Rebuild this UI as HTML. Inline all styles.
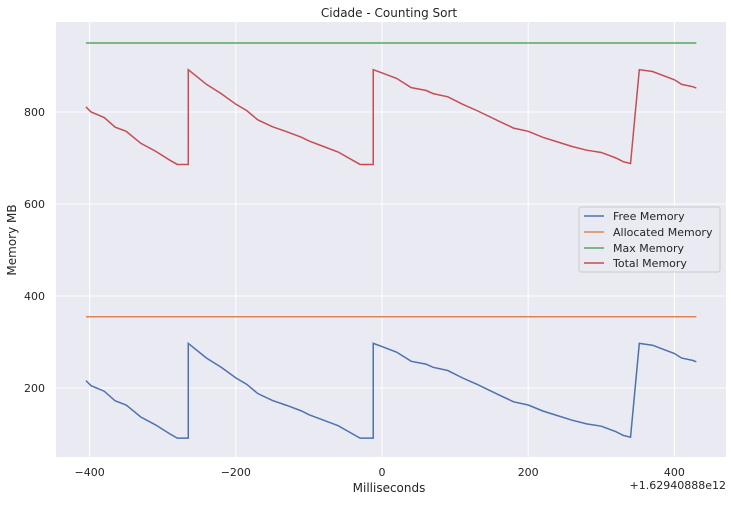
<!DOCTYPE html>
<html><head><meta charset="utf-8"><style>
body{margin:0;background:#fff;font-family:"DejaVu Sans","Liberation Sans",sans-serif;}
svg text{font-family:"DejaVu Sans","Liberation Sans",sans-serif;fill:#262626;}
</style></head><body>
<svg id="c" width="731" height="501"></svg>
<script>
const xs=[-405,-398,-380,-365,-350,-330,-310,-290,-280,-265,-265,-240,-220,-200,-185,-170,-150,-130,-110,-100,-80,-60,-40,-30,-12,-12,0,20,40,60,70,90,110,130,160,180,200,220,240,260,280,300,320,330,340,352,370,400,410,425,430];
const freeMem=[216,205,193,172,163,137,120,100,91,91,297,265,245,222,208,188,173,162,150,142,130,118,100,91,91,297,290,278,258,252,245,238,222,208,185,170,163,150,140,130,122,117,105,97,93,297,293,275,265,260,257];
const totalMem=[811,800,788,767,758,732,715,695,686,686,892,860,840,817,803,783,768,757,745,737,725,713,695,686,686,892,885,873,853,847,840,833,817,803,780,765,758,745,735,725,717,712,700,692,688,892,888,870,860,855,852];
const allocX=[-405,430], allocMem=[355,355];
const maxX=[-405,430], maxMem=[950,950];
const xTicks=[-400,-200,0,200,400], xTickLabels=["\u2212400","\u2212200","0","200","400"];
const yTicks=[200,400,600,800], yTickLabels=["200","400","600","800"];
const L=56,R=726,T=22,B=457;
const X=v=>382+v*0.731, Y=v=>112-(v-800)*0.46;
const s=document.getElementById('c');const NS="http://www.w3.org/2000/svg";
function el(t,a,p){const e=document.createElementNS(NS,t);for(const k in a)e.setAttribute(k,a[k]);(p||s).appendChild(e);return e;}
const bg=el('rect',{x:L,y:T,width:R-L,height:B-T,fill:'#eaeaf2'});


xTicks.forEach((v,i)=>{
 const g=el('line',{x1:X(v),x2:X(v),y1:T,y2:B,stroke:'#fff','stroke-width':1});
 
 
 const t=el('text',{x:X(v),y:476,'text-anchor':'middle','font-size':11});t.textContent=xTickLabels[i];
 
 
});
yTicks.forEach((v,i)=>{
 const g=el('line',{x1:L,x2:R,y1:Y(v),y2:Y(v),stroke:'#fff','stroke-width':1});
 
 
 const t=el('text',{x:45,y:Y(v)+4,'text-anchor':'end','font-size':11});t.textContent=yTickLabels[i];
 
 
});
function line(xa,ya,c,n){const p=el('polyline',{points:xa.map((x,i)=>X(x)+','+Y(ya[i])).join(' '),fill:'none',stroke:c,'stroke-width':1.5});
 
 }
line(xs,freeMem,'#4c72b0','free-memory-line');
line(allocX,allocMem,'#dd8452','allocated-memory-line');
line(maxX,maxMem,'#55a868','max-memory-line');
line(xs,totalMem,'#c44e52','total-memory-line');
</script>
<svg style="position:absolute;left:0;top:0" width="731" height="501">
<text x="389" y="17" text-anchor="middle" font-size="12">Cidade - Counting Sort</text>
<text x="389" y="492" text-anchor="middle" font-size="12">Milliseconds</text>
<text x="726" y="489" text-anchor="end" font-size="11">+1.62940888e12</text>
<text transform="translate(16,240) rotate(-90)" text-anchor="middle" font-size="12">Memory MB</text>
<g>
<rect x="579" y="207" width="141" height="65" fill="#eaeaf2" stroke="#ccc" rx="2"/>
<g><line x1="584" x2="604" y1="216" y2="216" stroke="#4c72b0" stroke-width="1.5"/><text x="613" y="220" font-size="11">Free Memory</text></g>
<g><line x1="584" x2="604" y1="232" y2="232" stroke="#dd8452" stroke-width="1.5"/><text x="613" y="236" font-size="11">Allocated Memory</text></g>
<g><line x1="584" x2="604" y1="248" y2="248" stroke="#55a868" stroke-width="1.5"/><text x="613" y="252" font-size="11">Max Memory</text></g>
<g><line x1="584" x2="604" y1="263" y2="263" stroke="#c44e52" stroke-width="1.5"/><text x="613" y="267" font-size="11">Total Memory</text></g>
</g>
</svg>
</body></html>
